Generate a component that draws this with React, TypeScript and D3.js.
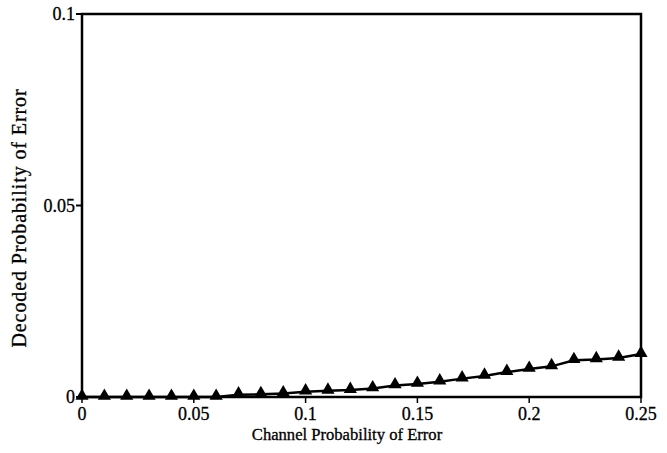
import React from 'react';
import * as d3 from 'd3';

const channelError = d3.range(0, 26).map((i) => i / 100);
const decodedError = [
  0, 0, 0, 0, 0, 0, 0, 0.0006, 0.0007, 0.0009, 0.0014, 0.0016, 0.0018,
  0.0022, 0.003, 0.0034, 0.004, 0.0048, 0.0055, 0.0065, 0.0073, 0.008,
  0.0096, 0.0098, 0.0102, 0.0112,
];
const xTicks = [0, 0.05, 0.1, 0.15, 0.2, 0.25];
const yTicks = [0, 0.05, 0.1];

const width = 667;
const height = 453;
const margin = { top: 14, right: 26, bottom: 56, left: 82 };

const App = () => {
  const x = d3
    .scaleLinear()
    .domain([0, 0.25])
    .range([margin.left, width - margin.right]);
  const y = d3
    .scaleLinear()
    .domain([0, 0.1])
    .range([height - margin.bottom, margin.top]);

  const line = d3
    .line<number>()
    .x((d, i) => x(channelError[i]))
    .y((d) => y(d));
  const tri = d3.symbol().type(d3.symbolTriangle).size(75);

  const font = '"Liberation Serif", "DejaVu Serif", serif';

  return (
    <svg
      width={width}
      height={height}
      style={{ position: 'absolute', left: 0, top: 0, background: '#fff' }}
      fontFamily={font}
    >
      <rect
        x={x(0)}
        y={y(0.1)}
        width={x(0.25) - x(0)}
        height={y(0) - y(0.1)}
        fill="none"
        stroke="#000"
        strokeWidth={2.5}
      />
      {yTicks.map((t) => (
        <g key={t}>
          <line x1={x(0) - 6} x2={x(0)} y1={y(t)} y2={y(t)} stroke="#000" strokeWidth={2} />
          <text
            x={x(0) - 7}
            y={y(t)}
            textAnchor="end"
            dominantBaseline="central"
            fontSize={18}
            stroke="#000"
            strokeWidth={0.3}
          >
            {t === 0 ? '0' : String(t)}
          </text>
        </g>
      ))}
      {xTicks.map((t) => (
        <g key={t}>
          <line x1={x(t)} x2={x(t)} y1={y(0)} y2={y(0) + 6} stroke="#000" strokeWidth={1.5} />
          <text
            x={x(t)}
            y={y(0) + 23}
            textAnchor="middle"
            fontSize={18}
            stroke="#000"
            strokeWidth={0.3}
          >
            {t === 0 ? '0' : String(t)}
          </text>
        </g>
      ))}
      <text
        x={347}
        y={y(0) + 43}
        textAnchor="middle"
        fontSize={16.6}
        stroke="#000"
        strokeWidth={0.3}
      >
        Channel Probability of Error
      </text>
      <text
        transform={`translate(26 218) rotate(-90)`}
        textAnchor="middle"
        fontSize={20}
        letterSpacing={0.9}
        stroke="#000"
        strokeWidth={0.3}
      >
        Decoded Probability of Error
      </text>
      <path d={line(decodedError) ?? ''} fill="none" stroke="#000" strokeWidth={2.5} />
      {decodedError.map((d, i) => (
        <path
          key={i}
          d={tri() ?? ''}
          transform={`translate(${x(channelError[i])} ${y(d) - 1})`}
          fill="#000"
        />
      ))}
    </svg>
  );
};

export default App;
